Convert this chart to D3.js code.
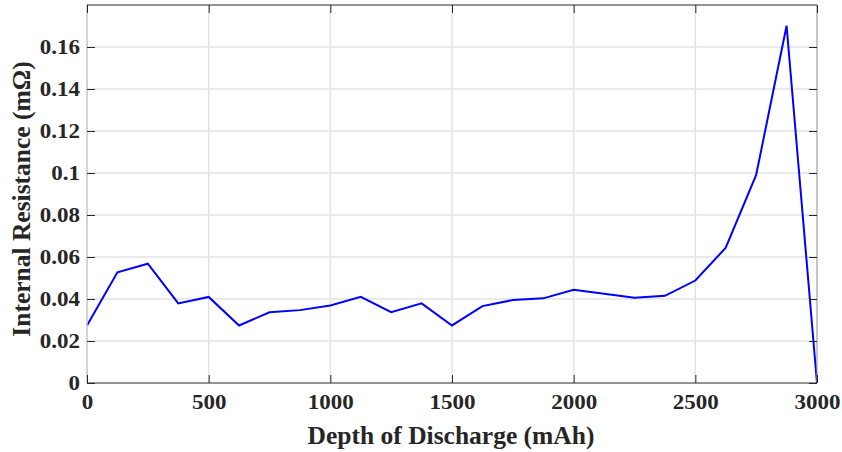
<!DOCTYPE html>
<html><head><meta charset="utf-8">
<script src="https://cdn.jsdelivr.net/npm/d3@7"></script>
<style>body{margin:0;background:#fff;} text{font-family:"Liberation Serif","Times New Roman",serif;font-weight:bold;fill:#262626;}</style>
</head><body><svg id="c" width="842" height="452"></svg>
<script>
const depth = [0,125,250,375,500,625,750,875,1000,1125,1250,1375,1500,1625,1750,1875,2000,2125,2250,2375,2500,2625,2750,2875,3000];
const resistance = [0.0274,0.0527,0.0568,0.0379,0.0410,0.0274,0.0337,0.0347,0.0369,0.0410,0.0337,0.0379,0.0274,0.0366,0.0395,0.0403,0.0444,0.0425,0.0406,0.0415,0.0488,0.0644,0.0991,0.1701,0];
const xTicks = [0,500,1000,1500,2000,2500,3000];
const yTicks = [0,0.02,0.04,0.06,0.08,0.1,0.12,0.14,0.16];
const yTickLabels = ["0","0.02","0.04","0.06","0.08","0.1","0.12","0.14","0.16"];
const xTitle = "Depth of Discharge (mAh)";
const yTitle = "Internal Resistance (mΩ)";

const L=87,R=817,T=5,B=383;
const svg=d3.select("#c");
const x=d3.scaleLinear().domain([0,3000]).range([L,R]);
const y=d3.scaleLinear().domain([0,0.18]).range([B,T]);
const SY=0.87;

// grid
svg.append("g").selectAll("line").data(yTicks.slice(1)).join("line")
 .attr("x1",L).attr("x2",R).attr("y1",d=>y(d)).attr("y2",d=>y(d))
 .attr("stroke","#e3e3e3").attr("stroke-width",1.5);
svg.append("g").selectAll("line").data(xTicks.slice(1,-1)).join("line")
 .attr("y1",T).attr("y2",B).attr("x1",d=>x(d)).attr("x2",d=>x(d))
 .attr("stroke","#e3e3e3").attr("stroke-width",1.5);

// line
svg.append("path").datum(depth.map((d,i)=>[d,resistance[i]]))
 .attr("fill","none").attr("stroke","#0000ff").attr("stroke-width",2)
 .attr("d",d3.line().x(d=>x(d[0])).y(d=>y(d[1])));

// frame
svg.append("line").attr("x1",L).attr("x2",R).attr("y1",T).attr("y2",T).attr("stroke","#262626");
svg.append("line").attr("x1",L).attr("x2",R).attr("y1",B).attr("y2",B).attr("stroke","#262626");
svg.append("line").attr("x1",L).attr("x2",L).attr("y1",T).attr("y2",B).attr("stroke","#c4c4c4").attr("stroke-width",1.5);
svg.append("line").attr("x1",R).attr("x2",R).attr("y1",T).attr("y2",B).attr("stroke","#8a8a8a");

// axes
const xb=svg.append("g").attr("transform",`translate(0,${B})`)
 .call(d3.axisBottom(x).tickValues(xTicks).tickSizeInner(-8).tickSizeOuter(0).tickPadding(12).tickFormat(d3.format("d")));
const xt=svg.append("g").attr("transform",`translate(0,${T})`)
 .call(d3.axisTop(x).tickValues(xTicks).tickSizeInner(-8).tickSizeOuter(0).tickFormat(""));
const yl=svg.append("g").attr("transform",`translate(${L},0)`)
 .call(d3.axisLeft(y).tickValues(yTicks).tickSizeInner(-8).tickSizeOuter(0).tickPadding(7).tickFormat((d,i)=>yTickLabels[i]));
const yr=svg.append("g").attr("transform",`translate(${R},0)`)
 .call(d3.axisRight(y).tickValues(yTicks).tickSizeInner(-8).tickSizeOuter(0).tickFormat(""));
[xb,xt,yl,yr].forEach(g=>{g.select(".domain").remove();g.selectAll(".tick line").attr("stroke","#262626");
 g.selectAll("text").attr("font-size",23).attr("font-family","Liberation Serif").attr("font-weight","bold").attr("fill","#262626");});
xb.selectAll(".tick text").attr("y",12/SY).attr("transform",`scale(1,${SY})`);
yl.selectAll(".tick text").attr("transform",`scale(1,${SY})`);

svg.append("text").attr("x",451).attr("y",444).attr("text-anchor","middle").attr("font-size",25.5).text(xTitle);
svg.append("text").attr("transform",`translate(30,199) rotate(-90)`).attr("text-anchor","middle").attr("font-size",25.5).text(yTitle);
</script></body></html>
